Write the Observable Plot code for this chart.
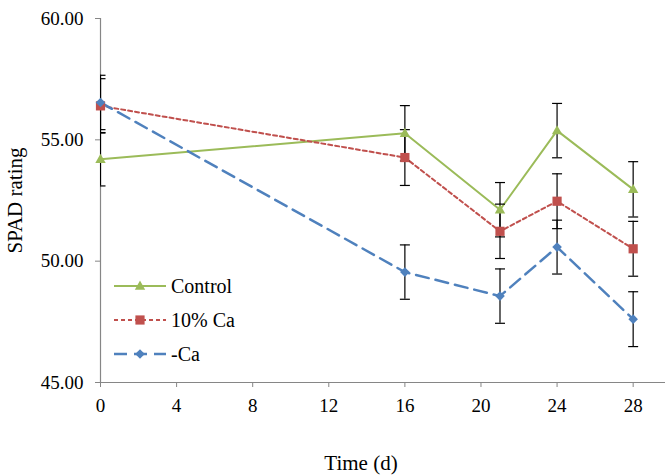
<!DOCTYPE html>
<html>
<head>
<meta charset="utf-8">
<script src="https://cdn.jsdelivr.net/npm/d3@7"></script>
<script src="https://cdn.jsdelivr.net/npm/@observablehq/plot@0.6"></script>
<style>
  html, body { margin: 0; padding: 0; background: #fff; }
  #chart { position: relative; width: 666px; height: 476px; }
  #chart svg text { font-family: "Liberation Serif", "Times New Roman", serif !important; }
  #legend { position: absolute; left: 0; top: 0; pointer-events: none; }
</style>
</head>
<body>
<div id="chart"></div>
<script>
// Sampling days (d) and SPAD readings with ± error for each treatment
const days = [0, 16, 21, 24, 28];
const seriesNames = ["Control", "10% Ca", "-Ca"];
const control    = [54.20, 55.27, 52.12, 55.38, 52.96];
const controlErr = [1.10, 1.14, 1.12, 1.12, 1.14];
const tenCa      = [56.40, 54.27, 51.23, 52.47, 50.51];
const tenCaErr   = [1.12, 1.15, 1.12, 1.13, 1.13];
const noCa       = [56.54, 49.55, 48.56, 50.58, 47.61];
const noCaErr    = [1.12, 1.12, 1.12, 1.11, 1.13];
const xTicks = [0, 4, 8, 12, 16, 20, 24, 28];
const yTicks = [45, 50, 55, 60];

const serif = '"Liberation Serif", "Times New Roman", serif';

// Marker shapes; the radius passed to Plot.dot is the half-extent of each shape
const sym = f => ({ draw(ctx, size) { f(ctx, Math.sqrt(size / Math.PI)); } });
const triangle = sym((c, r) => { c.moveTo(0, -r * 1.05); c.lineTo(r, r * 0.72); c.lineTo(-r, r * 0.72); c.closePath(); });
const square   = sym((c, r) => { c.rect(-r, -r, 2 * r, 2 * r); });
const diamond  = sym((c, r) => { c.moveTo(0, -r); c.lineTo(r, 0); c.lineTo(0, r); c.lineTo(-r, 0); c.closePath(); });
const cap      = sym((c, r) => { c.moveTo(-r, 0); c.lineTo(r, 0); });

const styles = [
  { color: "#9BBB59", dash: null,   width: 2,   symbol: triangle, r: 5.2 },
  { color: "#C0504D", dash: "4,3",  width: 2,   symbol: square,   r: 4.6 },
  { color: "#4F81BD", dash: "13,7", width: 2.5, symbol: diamond,  r: 4.8 }
];

const toRows = (name, vals, errs) => days.map((d, i) => ({ day: d, value: vals[i], err: errs[i], series: name }));
const series = [
  toRows(seriesNames[0], control, controlErr),
  toRows(seriesNames[1], tenCa, tenCaErr),
  toRows(seriesNames[2], noCa, noCaErr)
];
const all = series.flat();

const axisGray = "#868686";

const marks = [
  Plot.axisX(xTicks, { tickSize: 5, tickPadding: 11, fontSize: 19, fontFamily: serif, stroke: axisGray, fill: "black", label: null }),
  Plot.axisY(yTicks, { tickSize: 5, tickPadding: 12, fontSize: 19, fontFamily: serif, stroke: axisGray, fill: "black", label: null,
                       tickFormat: d => d.toFixed(2) }),
  Plot.ruleX([0], { stroke: axisGray, strokeWidth: 1.2 }),
  Plot.ruleY([45], { stroke: axisGray, strokeWidth: 1.2 }),
  Plot.text(["SPAD rating"], { frameAnchor: "left", dx: -85, rotate: -90, textAnchor: "middle", lineAnchor: "middle", fontSize: 21, fontFamily: serif, fill: "black" }),
  Plot.text(["Time (d)"], { frameAnchor: "bottom", dx: -22, dy: 81, textAnchor: "middle", lineAnchor: "middle", fontSize: 21, fontFamily: serif, fill: "black" })
];

series.forEach((rows, i) => {
  const s = styles[i];
  marks.push(Plot.line(rows, { x: "day", y: "value", stroke: s.color, strokeWidth: s.width,
                               strokeDasharray: s.dash, strokeLinejoin: "round" }));
});

// Error bars with caps, clipped to the plotting area
marks.push(
  Plot.ruleX(all, { x: "day", y1: d => d.value - d.err, y2: d => d.value + d.err, stroke: "black", strokeWidth: 1.2, clip: true }),
  Plot.dot(all, { x: "day", y: d => d.value + d.err, symbol: cap, r: 5, stroke: "black", fill: "none", strokeWidth: 1.2, clip: true }),
  Plot.dot(all, { x: "day", y: d => d.value - d.err, symbol: cap, r: 5, stroke: "black", fill: "none", strokeWidth: 1.2, clip: true })
);

series.forEach((rows, i) => {
  const s = styles[i];
  marks.push(Plot.dot(rows, { x: "day", y: "value", symbol: s.symbol, r: s.r, fill: s.color, stroke: "none" }));
});

const chart = Plot.plot({
  width: 666,
  height: 476,
  marginLeft: 100,
  marginRight: 1,
  marginTop: 18,
  marginBottom: 94,
  style: { fontFamily: serif, background: "white", color: "black" },
  x: { domain: [0, 29.7] },
  y: { domain: [45, 60] },
  marks
});
const host = document.getElementById("chart");
host.appendChild(chart);

// Legend placed in the lower-left corner of the plotting area
const legend = d3.select(host).append("svg")
  .attr("id", "legend").attr("width", 666).attr("height", 476);
const rowY = [286, 320, 354];
seriesNames.forEach((name, i) => {
  const s = styles[i];
  const g = legend.append("g").attr("transform", `translate(0,${rowY[i]})`);
  g.append("line").attr("x1", 114).attr("x2", 166).attr("y1", 0).attr("y2", 0)
    .attr("stroke", s.color).attr("stroke-width", s.width)
    .attr("stroke-dasharray", s.dash);
  g.append("path").attr("transform", "translate(140,0)")
    .attr("d", d3.symbol().type(s.symbol).size(Math.PI * s.r * s.r)())
    .attr("fill", s.color);
  g.append("text").attr("x", 171).attr("y", 0).attr("dy", "0.35em")
    .attr("font-size", 20).attr("fill", "black")
    .text(name);
});
</script>
</body>
</html>
